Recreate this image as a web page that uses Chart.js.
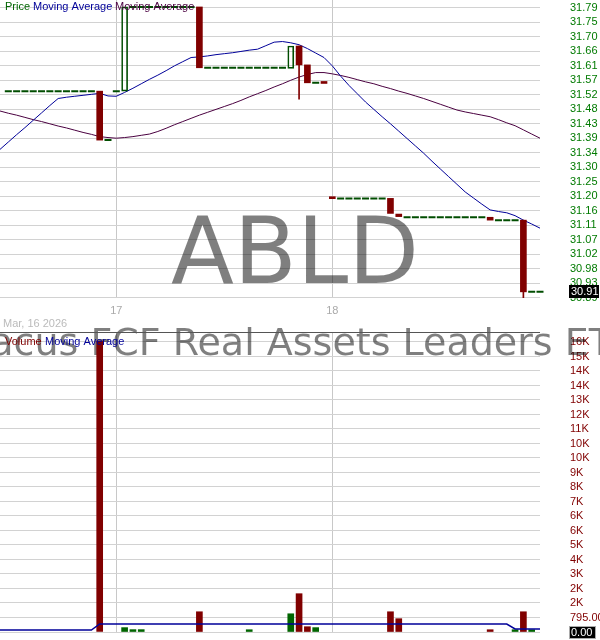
<!DOCTYPE html>
<html>
<head>
<meta charset="utf-8">
<script src="https://cdn.jsdelivr.net/npm/chart.js@4.4.1/dist/chart.umd.min.js"></script>
<style>
html,body{margin:0;padding:0;background:#ffffff;}
#wrap{position:relative;width:600px;height:640px;overflow:hidden;background:#fff;}
#pc{position:absolute;left:0;top:0;}
#vc{position:absolute;left:0;top:332px;}
</style>
</head>
<body>
<div id="wrap">
<canvas id="pc" width="600" height="332"></canvas>
<canvas id="vc" width="600" height="308"></canvas>
</div>
<script>
// ---------------- DATA ----------------
const symbol = 'ABLD';
const fundName = 'Abacus FCF Real Assets Leaders ETF';
const dateText = 'Mar, 16 2026';

const sessionTimes = ['09:30','09:45','10:00','10:15','10:30','10:45','11:00','11:15','11:30','11:45','12:00','12:15','12:30','12:45','13:00','13:15','13:30','13:45','14:00','14:15','14:30','14:45','15:00','15:15','15:30','15:45'];
const day16Times = ['12:30','12:45','13:00','13:15','13:30','13:45','14:00','14:15','14:30','14:45','15:00','15:15','15:30','15:45'];
const categories = [].concat(
  day16Times.map(t => 'Mar 16 ' + t),
  sessionTimes.map(t => 'Mar 17 ' + t),
  sessionTimes.map(t => 'Mar 18 ' + t)
);

const opens = [null,
 31.533,31.533,31.533,31.533,31.533,31.533,31.533,31.533,31.533,31.533,31.533,
 31.533,31.380,31.533,31.533,
 31.796,31.796,31.796,31.796,31.796,31.796,31.796,31.796,
 31.796,
 31.606,31.606,31.606,31.606,31.606,31.606,31.606,31.606,31.606,31.606,
 31.604,31.674,31.615,31.559,31.559,31.199,
 31.198,31.198,31.198,31.198,31.198,31.198,
 31.198,31.149,
 31.139,31.139,31.139,31.139,31.139,31.139,31.139,31.139,31.139,31.139,
 31.139,
 31.130,31.130,31.130,
 31.130,
 30.906,30.906];
const highs = [null,
 31.533,31.533,31.533,31.533,31.533,31.533,31.533,31.533,31.533,31.533,31.533,
 31.533,31.380,31.533,31.796,
 31.796,31.796,31.796,31.796,31.796,31.796,31.796,31.796,
 31.796,
 31.606,31.606,31.606,31.606,31.606,31.606,31.606,31.606,31.606,31.606,
 31.674,31.674,31.615,31.559,31.559,31.199,
 31.198,31.198,31.198,31.198,31.198,31.198,
 31.198,31.149,
 31.139,31.139,31.139,31.139,31.139,31.139,31.139,31.139,31.139,31.139,
 31.139,
 31.130,31.130,31.130,
 31.130,
 30.906,30.906];
const lows = [null,
 31.533,31.533,31.533,31.533,31.533,31.533,31.533,31.533,31.533,31.533,31.533,
 31.380,31.380,31.533,31.533,
 31.796,31.796,31.796,31.796,31.796,31.796,31.796,31.796,
 31.606,
 31.606,31.606,31.606,31.606,31.606,31.606,31.606,31.606,31.606,31.606,
 31.604,31.508,31.559,31.559,31.557,31.197,
 31.198,31.198,31.198,31.198,31.198,31.198,
 31.151,31.141,
 31.139,31.139,31.139,31.139,31.139,31.139,31.139,31.139,31.139,31.139,
 31.130,
 31.130,31.130,31.130,
 30.886,
 30.906,30.906];
const closes = [null,
 31.533,31.533,31.533,31.533,31.533,31.533,31.533,31.533,31.533,31.533,31.533,
 31.380,31.380,31.533,31.796,
 31.796,31.796,31.796,31.796,31.796,31.796,31.796,31.796,
 31.606,
 31.606,31.606,31.606,31.606,31.606,31.606,31.606,31.606,31.606,31.606,
 31.674,31.615,31.559,31.559,31.557,31.197,
 31.198,31.198,31.198,31.198,31.198,31.198,
 31.151,31.141,
 31.139,31.139,31.139,31.139,31.139,31.139,31.139,31.139,31.139,31.139,
 31.130,
 31.130,31.130,31.130,
 30.906,
 30.906,30.906];

const maShort = [
 31.351,31.374,31.397,31.419,31.442,31.465,31.488,31.510,31.514,31.517,
 31.520,31.523,31.526,31.518,31.517,31.529,31.542,31.556,31.570,31.583,
 31.597,31.612,31.625,31.638,31.640,31.643,31.647,31.650,31.653,31.657,
 31.661,31.664,31.675,31.686,31.688,31.684,31.678,31.666,31.652,31.638,
 31.612,31.580,31.551,31.525,31.499,31.476,31.453,31.431,31.408,31.385,
 31.362,31.339,31.314,31.290,31.266,31.242,31.218,31.199,31.180,31.162,
 31.157,31.153,31.144,31.130,31.118,31.105];
const maLong = [
 31.471,31.464,31.458,31.451,31.444,31.438,31.431,31.424,31.418,31.411,
 31.404,31.398,31.391,31.388,31.386,31.388,31.391,31.395,31.399,31.407,
 31.417,31.428,31.438,31.448,31.458,31.467,31.476,31.485,31.494,31.504,
 31.515,31.525,31.535,31.546,31.556,31.567,31.577,31.585,31.591,31.591,
 31.587,31.582,31.576,31.569,31.562,31.556,31.548,31.541,31.533,31.526,
 31.518,31.510,31.501,31.492,31.483,31.474,31.468,31.463,31.458,31.453,
 31.444,31.434,31.425,31.412,31.399,31.386];

const volumes = [
 0,0,0,0,0,0,0,0,0,0,0,0,
 15950,0,0,240,130,130,0,0,0,0,0,0,
 1110,0,0,0,0,0,125,0,0,0,0,
 1000,2100,290,240,0,0,
 0,0,0,0,0,0,
 1110,730,
 0,0,0,0,0,0,0,0,0,0,
 125,0,0,125,1110,125,0];
const volumeMA = [
 110,110,110,110,110,110,110,110,110,110,110,110,
 439,439,439,439,439,439,439,439,439,439,
 439,439,439,439,439,439,439,439,439,439,
 439,439,439,439,439,439,439,439,439,439,
 439,439,439,439,439,439,439,439,439,439,
 439,439,439,439,439,439,439,439,439,439,
 164,164,164,164];

const priceTickLabels = ['30.89','30.93','30.98','31.02','31.07','31.11','31.16','31.20','31.25','31.30','31.34','31.39','31.43','31.48','31.52','31.57','31.61','31.66','31.70','31.75','31.79'];
const volumeTickLabels = ['0.00','795.00','2K','2K','3K','4K','5K','6K','6K','7K','8K','9K','10K','10K','11K','12K','13K','14K','14K','15K','16K'];

// ---------------- AXIS SETUP ----------------
const priceTickStart = 30.8876, priceTickStep = 0.0453;
const priceTickValues = priceTickLabels.map((_, k) => priceTickStart + k * priceTickStep);
const priceAxisMin = 30.8868, priceAxisMax = 31.8177;
const volumeTickStep = 795;
const volumeTickValues = volumeTickLabels.map((_, k) => k * volumeTickStep);
const volumeAxisMax = 16448;

const RED = '#800000', GREEN = '#006400', GREEN_OUT = '#004d00';
const BLUE = '#000099', PURPLE = '#4a0040';
const GRID = '#d2d2d2', DAYGRID = '#c8c8c8';
const LBL = '"Liberation Sans", Arial, sans-serif';

const isUp = i => closes[i] !== null && closes[i] > opens[i];
const isFlat = i => closes[i] !== null && closes[i] === opens[i];
const bodyData = opens.map((o, i) => (o === null || isFlat(i)) ? null : [o, closes[i]]);
const flatData = opens.map((o, i) => isFlat(i) ? closes[i] : null);
const wickData = opens.map((o, i) => {
  if (o === null) return null;
  const top = Math.max(o, closes[i]), bot = Math.min(o, closes[i]);
  return (highs[i] > top || lows[i] < bot) ? [lows[i], highs[i]] : null;
});
const candleColor = i => (closes[i] !== null && closes[i] < opens[i]) ? RED : GREEN;
const volumeBars = volumes.map(v => v > 0 ? v : null);

const dayLabel = i => categories[i].endsWith(' 09:30') ? categories[i].split(' ')[1] : '';

function xAxis(showTicks, height) {
  return {
    type: 'category', offset: false,
    grid: { offset: false, drawTicks: false, lineWidth: 1,
      color: c => dayLabel(c.index) ? DAYGRID : 'rgba(0,0,0,0)' },
    border: { display: false },
    ticks: { display: showTicks, autoSkip: false, maxRotation: 0, minRotation: 0,
      color: '#aaaaaa', font: { family: LBL, size: 11 }, padding: 6,
      callback: (v, i) => dayLabel(i) },
    afterFit: a => { a.height = height; a.paddingLeft = 0; a.paddingRight = 0; }
  };
}
function yAxis(min, max, values, labels, color) {
  return {
    position: 'right', min: min, max: max,
    grid: { color: GRID, drawTicks: false, lineWidth: 1 },
    border: { display: false },
    ticks: { color: color, font: { family: LBL, size: 11 }, padding: 30, autoSkip: false,
      callback: (v, i) => labels[i] },
    afterBuildTicks: a => { a.ticks = values.map(v => ({ value: v })); },
    afterFit: a => { a.width = 60; a.paddingTop = 0; a.paddingBottom = 0; }
  };
}

// ---------------- PRICE CHART ----------------
const pricePlugin = {
  id: 'priceDecor',
  beforeDatasetsDraw(chart) {
    const ctx = chart.ctx;
    ctx.save();
    ctx.fillStyle = 'rgba(0,0,0,0.5)';
    ctx.textAlign = 'center';
    ctx.textBaseline = 'alphabetic';
    ctx.font = '92px "DejaVu Sans"';
    ctx.fillText(symbol, 295, 283);
    ctx.font = '38px "DejaVu Sans"';
    ctx.fillText(fundName, 287, 355);
    ctx.restore();
  },
  afterDraw(chart) {
    const ctx = chart.ctx;
    ctx.save();
    ctx.textBaseline = 'middle';
    ctx.textAlign = 'left';
    ctx.font = '11px ' + LBL;
    ctx.fillStyle = GREEN; ctx.fillText('Price', 5, 7);
    ctx.fillStyle = BLUE; ctx.fillText('Moving Average', 33, 7);
    ctx.fillStyle = PURPLE; ctx.fillText('Moving Average', 115, 7);
    ctx.fillStyle = '#bbbbbb'; ctx.fillText(dateText, 3, 324);
    const last = closes[closes.length - 1];
    const y = chart.scales.y.getPixelForValue(last);
    ctx.fillStyle = '#000000';
    ctx.fillRect(569, Math.round(y - 6.5), 30, 13);
    ctx.fillStyle = '#ffffff';
    ctx.fillText(last.toFixed(2), 571, y + 0.5);
    ctx.restore();
  }
};

new Chart(document.getElementById('pc'), {
  type: 'bar',
  data: {
    labels: categories,
    datasets: [
      { type: 'bar', data: bodyData, grouped: false, barThickness: 6, minBarLength: 2,
        borderSkipped: false,
        backgroundColor: c => isUp(c.dataIndex) ? 'rgba(0,0,0,0)' : RED,
        borderColor: c => isUp(c.dataIndex) ? GREEN_OUT : RED,
        borderWidth: c => isUp(c.dataIndex) ? 1 : 0, order: 0 },
      { type: 'bar', data: wickData, grouped: false, barThickness: 1,
        backgroundColor: c => candleColor(c.dataIndex), borderWidth: 0, order: 1 },
      { type: 'line', data: flatData, showLine: false, pointStyle: 'line', pointRadius: 3.5,
        pointHoverRadius: 3.5, pointBorderWidth: 2, pointBorderColor: GREEN_OUT,
        pointBackgroundColor: GREEN_OUT, order: 2 },
      { type: 'line', data: maShort, borderColor: BLUE, borderWidth: 1, pointRadius: 0,
        tension: 0, fill: false, order: 3 },
      { type: 'line', data: maLong, borderColor: PURPLE, borderWidth: 1, pointRadius: 0,
        tension: 0, fill: false, order: 4 }
    ]
  },
  options: {
    responsive: false, animation: false, events: [],
    layout: { padding: 0, autoPadding: false },
    plugins: { legend: { display: false }, tooltip: { enabled: false } },
    scales: {
      x: xAxis(true, 34),
      y: yAxis(priceAxisMin, priceAxisMax, priceTickValues, priceTickLabels, '#007a00')
    }
  },
  plugins: [pricePlugin]
});

// ---------------- VOLUME CHART ----------------
const volumePlugin = {
  id: 'volDecor',
  beforeDatasetsDraw(chart) {
    const ctx = chart.ctx;
    ctx.save();
    ctx.fillStyle = 'rgba(0,0,0,0.5)';
    ctx.textAlign = 'center';
    ctx.textBaseline = 'alphabetic';
    ctx.font = '38px "DejaVu Sans"';
    ctx.fillText(fundName, 287, 23);
    ctx.restore();
  },
  afterDraw(chart) {
    const ctx = chart.ctx;
    ctx.save();
    ctx.strokeStyle = '#555555';
    ctx.lineWidth = 1;
    ctx.beginPath(); ctx.moveTo(0, 0.5); ctx.lineTo(540, 0.5); ctx.stroke();
    ctx.textBaseline = 'middle';
    ctx.textAlign = 'left';
    ctx.font = '11px ' + LBL;
    ctx.fillStyle = RED; ctx.fillText('Volume', 5, 9.5);
    ctx.fillStyle = BLUE; ctx.fillText('Moving Average', 45, 9.5);
    const last = volumes[volumes.length - 1];
    const y = chart.scales.y.getPixelForValue(last);
    ctx.fillStyle = '#000000';
    ctx.fillRect(569, Math.round(y - 6.5), 27, 13);
    ctx.strokeStyle = '#aaaaaa';
    ctx.strokeRect(569.5, Math.round(y - 6.5) + 0.5, 26, 12);
    ctx.fillStyle = '#ffffff';
    ctx.fillText(last.toFixed(2), 571, y + 0.5);
    ctx.restore();
  }
};

new Chart(document.getElementById('vc'), {
  type: 'bar',
  data: {
    labels: categories,
    datasets: [
      { type: 'bar', data: volumeBars, grouped: false, barThickness: 6, borderWidth: 0,
        backgroundColor: c => candleColor(c.dataIndex), order: 1 },
      { type: 'line', data: volumeMA, borderColor: BLUE, borderWidth: 1.5, pointRadius: 0,
        tension: 0, fill: false, order: 0 }
    ]
  },
  options: {
    responsive: false, animation: false, events: [],
    layout: { padding: 0, autoPadding: false },
    plugins: { legend: { display: false }, tooltip: { enabled: false } },
    scales: {
      x: xAxis(false, 8),
      y: yAxis(0, volumeAxisMax, volumeTickValues, volumeTickLabels, RED)
    }
  },
  plugins: [volumePlugin]
});
</script>
</body>
</html>
